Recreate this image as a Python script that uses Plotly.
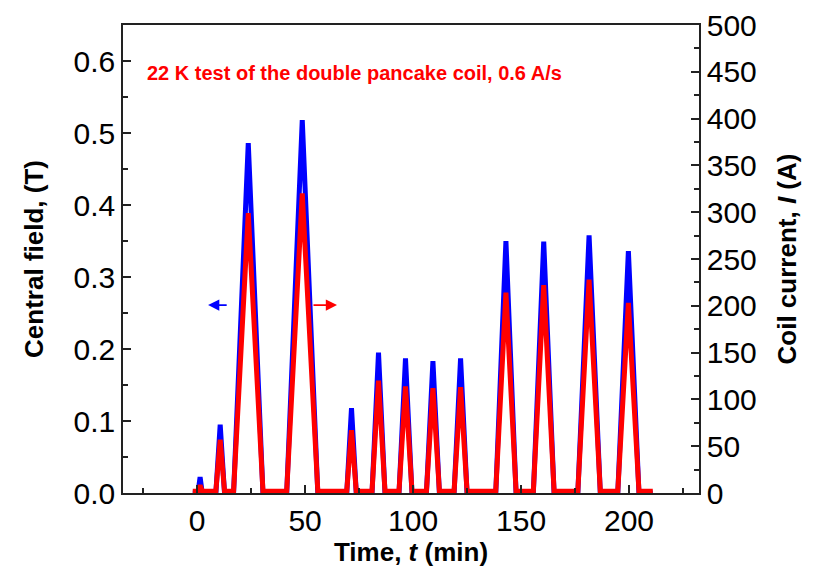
import plotly.graph_objects as go

# Time (min) of the vertices
time_min = [-2, 0.4, 1.4, 2.4, 8.7, 10.7, 12.7, 16.9, 23.7, 30.5, 41.5, 48.7, 55.9,
            69.3, 71.5, 73.7, 81.0, 84.0, 87.0, 93.5, 96.5, 99.5, 106.2, 109.2, 112.2,
            119.0, 122.0, 125.0, 138.3, 143.0, 147.7, 155.7, 160.5, 165.3,
            176.3, 181.5, 186.7, 194.8, 199.7, 204.6, 211]
# Central field (T)
field_T = [0, 0, 0.022, 0, 0, 0.095, 0, 0, 0.486, 0, 0, 0.518, 0,
           0, 0.118, 0, 0, 0.195, 0, 0, 0.187, 0, 0, 0.183, 0,
           0, 0.187, 0, 0, 0.350, 0, 0, 0.349, 0,
           0, 0.358, 0, 0, 0.336, 0, 0]
# Coil current (A)
current_A = [2, 2, 8, 2, 2, 57, 2, 2, 299, 2, 2, 320, 2,
             2, 67, 2, 2, 120, 2, 2, 114, 2, 2, 112, 2,
             2, 113, 2, 2, 214, 2, 2, 222, 2,
             2, 228, 2, 2, 203, 2, 2]

title_text = "22 K test of the double pancake coil, 0.6 A/s"

TICKFONT = dict(family="Liberation Sans, Arial, sans-serif", size=30, color="black")
TITLEFONT = dict(family="Liberation Sans, Arial, sans-serif", size=26, color="black", weight="bold")
AXCOL = "#222"

fig = go.Figure()
fig.add_trace(go.Scatter(x=time_min, y=field_T, mode="lines", yaxis="y",
                         line=dict(color="#0000ff", width=5), showlegend=False))
fig.add_trace(go.Scatter(x=time_min, y=current_A, mode="lines", yaxis="y2",
                         line=dict(color="#ff0000", width=5), showlegend=False))

fig.update_layout(
    width=817, height=566,
    margin=dict(l=115, r=126, t=17, b=81),
    plot_bgcolor="white", paper_bgcolor="white",
    xaxis=dict(range=[-34.3, 232.4], tickvals=[0, 50, 100, 150, 200], ticks="inside",
               ticklen=8, tickwidth=1.5, tickcolor=AXCOL, automargin=False,
               minor=dict(tickvals=[-25, 25, 75, 125, 175, 225], ticks="inside", ticklen=5, tickwidth=1.5, tickcolor=AXCOL),
               showline=True, linecolor=AXCOL, linewidth=1.5, mirror=True,
               showgrid=False, zeroline=False, tickfont=TICKFONT,
               title=dict(text="Time, <i>t</i> (min)", font=TITLEFONT, standoff=0)),
    yaxis=dict(range=[0, 0.65], tickvals=[0, 0.1, 0.2, 0.3, 0.4, 0.5, 0.6], tickformat=".1f",
               ticks="inside", ticklen=8, tickwidth=1.5, tickcolor=AXCOL, automargin=False,
               minor=dict(dtick=0.05, ticks="inside", ticklen=5, tickwidth=1.5, tickcolor=AXCOL),
               showline=True, linecolor=AXCOL, linewidth=1.5,
               showgrid=False, zeroline=False, tickfont=TICKFONT,
               title=dict(text="Central field, (T)", font=TITLEFONT, standoff=22)),
    yaxis2=dict(range=[0, 500], tickvals=list(range(0, 501, 50)), overlaying="y", side="right",
                ticks="inside", ticklen=8, tickwidth=1.5, tickcolor=AXCOL, automargin=False,
                minor=dict(dtick=25, ticks="inside", ticklen=5, tickwidth=1.5, tickcolor=AXCOL),
                showline=True, linecolor=AXCOL, linewidth=1.5,
                showgrid=False, zeroline=False, tickfont=TICKFONT,
                title=dict(text="Coil current, <i>I</i> (A)", font=TITLEFONT, standoff=22)),
    annotations=[
        dict(x=-24, y=0.583, xref="x", yref="y", text=title_text, showarrow=False,
             xanchor="left", yanchor="middle",
             font=dict(family="Liberation Sans, Arial, sans-serif", size=20, color="#ff0000", weight="bold")),
        dict(x=5.1, y=0.261, ax=14.4, ay=0.261, xref="x", yref="y", axref="x", ayref="y",
             text="", showarrow=True, arrowhead=2, arrowsize=1.4, arrowwidth=1.6, arrowcolor="#0000ff"),
        dict(x=64.8, y=0.261, ax=53.2, ay=0.261, xref="x", yref="y", axref="x", ayref="y",
             text="", showarrow=True, arrowhead=2, arrowsize=1.4, arrowwidth=1.6, arrowcolor="#ff0000"),
    ],
)

fig.write_html("out.html")
